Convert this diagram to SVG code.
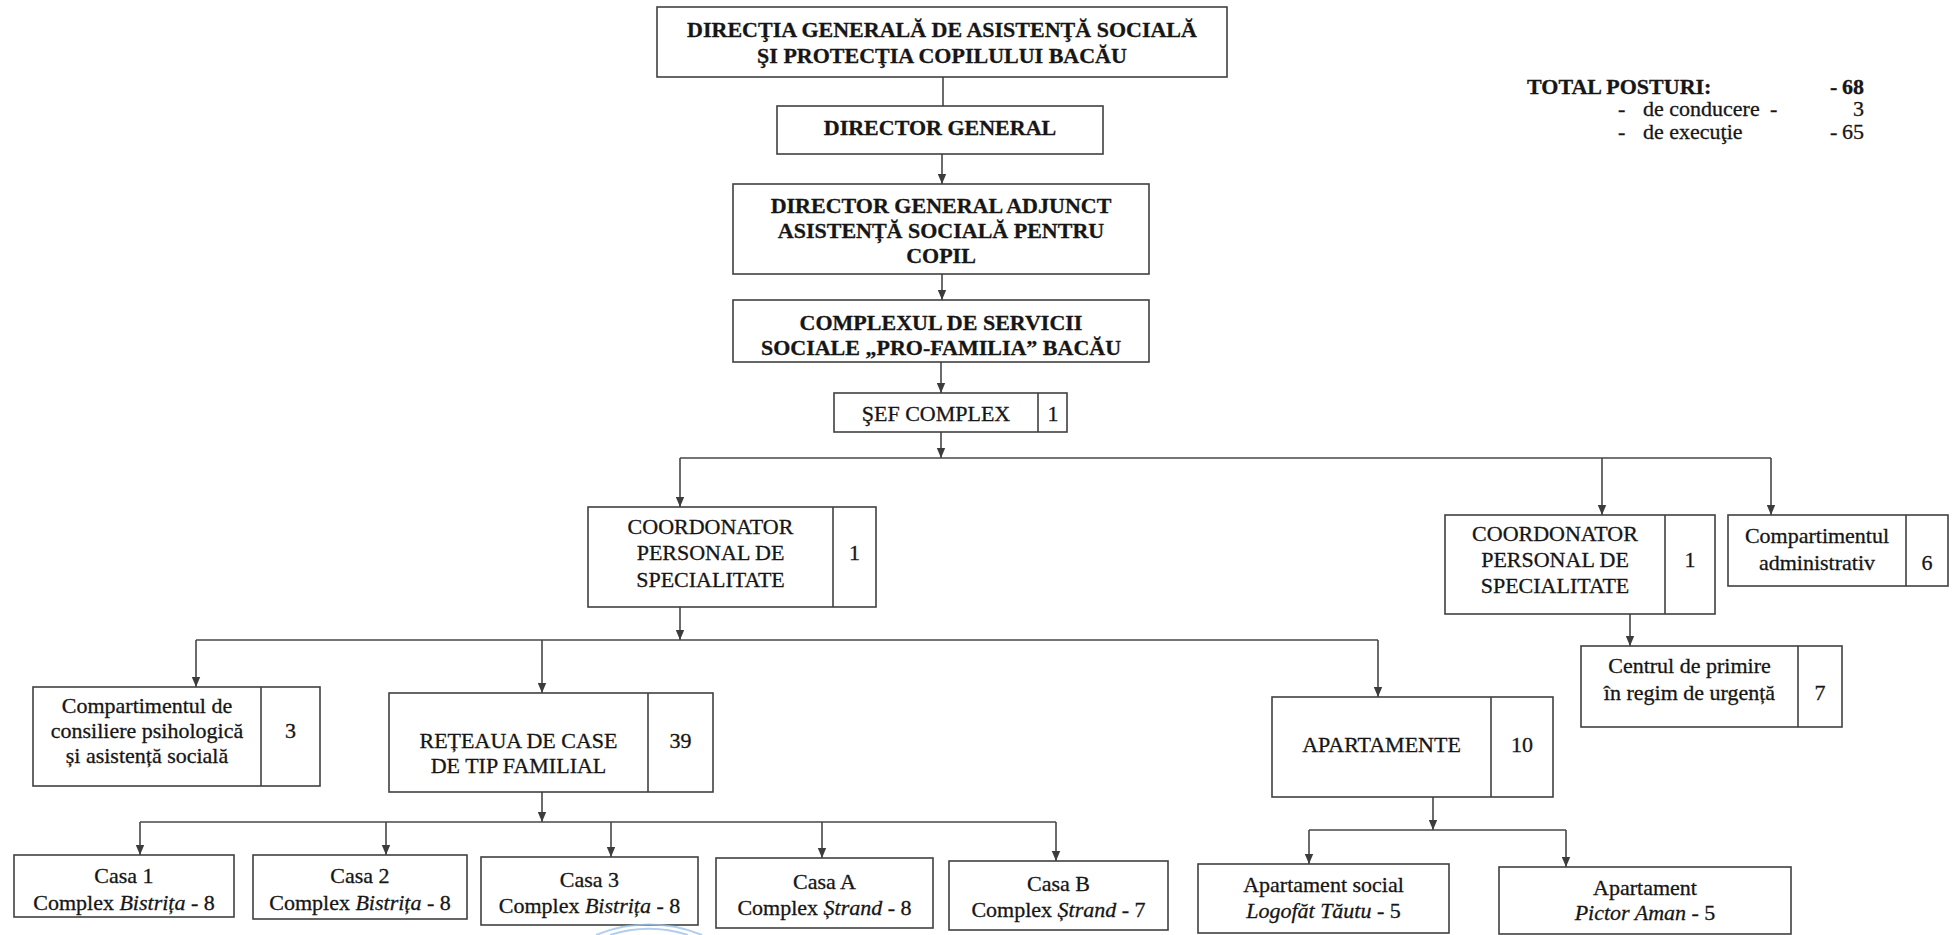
<svg xmlns="http://www.w3.org/2000/svg" width="1954" height="935" viewBox="0 0 1954 935">
<style>
.box{fill:#fff;stroke:#404040;stroke-width:1.6}
.dv{stroke:#404040;stroke-width:1.6}
.t{font-family:"Liberation Serif","Times New Roman",serif;font-size:22px;fill:#161616;stroke:#161616;stroke-width:0.3;text-anchor:middle}
.s{font-family:"Liberation Serif","Times New Roman",serif;font-size:22px;fill:#161616;stroke:#161616;stroke-width:0.3;text-anchor:start}
.e{text-anchor:end}
.b{font-weight:bold}
.i{font-style:italic}
.c{fill:none;stroke:#474747;stroke-width:1.6}
.a{marker-end:url(#arr)}
.stamp{fill:none;stroke:#9cc2ea;stroke-width:2;opacity:0.8}
</style>
<defs>
<marker id="arr" markerUnits="userSpaceOnUse" markerWidth="10" markerHeight="11" viewBox="0 0 10 10" refX="10" refY="5" orient="auto"><path d="M0,0.8 L10,5 L0,9.2 z" fill="#3c3c3c"/></marker>
</defs>
<rect width="1954" height="935" fill="#fff"/>

<g id="connectors">
<path class="c" d="M943,77 V106"/>
<path class="c a" d="M942,154 V184"/>
<path class="c a" d="M942,274 V300"/>
<path class="c a" d="M941,362 V393"/>
<path class="c a" d="M941,432 V458"/>
<path class="c" d="M680,458 H1771"/>
<path class="c a" d="M680,458 V507"/>
<path class="c a" d="M1602,458 V515"/>
<path class="c a" d="M1771,458 V515"/>
<path class="c a" d="M680,607 V640"/>
<path class="c" d="M196,640 H1378"/>
<path class="c a" d="M196,640 V687"/>
<path class="c a" d="M542,640 V693"/>
<path class="c a" d="M1378,640 V697"/>
<path class="c a" d="M1630,614 V646"/>
<path class="c a" d="M542,792 V822"/>
<path class="c" d="M140,822 H1056"/>
<path class="c a" d="M140,822 V855"/>
<path class="c a" d="M386,822 V855"/>
<path class="c a" d="M611,822 V857"/>
<path class="c a" d="M822,822 V858"/>
<path class="c a" d="M1056,822 V861"/>
<path class="c a" d="M1433,797 V830"/>
<path class="c" d="M1309,830 H1566"/>
<path class="c a" d="M1309,830 V864"/>
<path class="c a" d="M1566,830 V867"/>
</g>

<g id="dgaspc">
<rect class="box" x="657" y="7" width="570" height="70"/>
<text class="t b" x="942" y="37">DIRECŢIA GENERALĂ DE ASISTENŢĂ SOCIALĂ</text>
<text class="t b" x="942" y="63">ŞI PROTECŢIA COPILULUI BACĂU</text>
</g>

<g id="director-general">
<rect class="box" x="777" y="106" width="326" height="48"/>
<text class="t b" x="940" y="135">DIRECTOR GENERAL</text>
</g>

<g id="director-adjunct">
<rect class="box" x="733" y="184" width="416" height="90"/>
<text class="t b" x="941" y="213">DIRECTOR GENERAL ADJUNCT</text>
<text class="t b" x="941" y="238">ASISTENȚĂ SOCIALĂ PENTRU</text>
<text class="t b" x="941" y="263">COPIL</text>
</g>

<g id="complex">
<rect class="box" x="733" y="300" width="416" height="62"/>
<text class="t b" x="941" y="330">COMPLEXUL DE SERVICII</text>
<text class="t b" x="941" y="355">SOCIALE „PRO-FAMILIA” BACĂU</text>
</g>

<g id="sef-complex">
<rect class="box" x="834" y="393" width="233" height="39"/>
<line class="dv" x1="1038" y1="393" x2="1038" y2="432"/>
<text class="t" x="936" y="421">ŞEF COMPLEX</text>
<text class="t" x="1053" y="421">1</text>
</g>

<g id="coordonator-1">
<rect class="box" x="588" y="507" width="288" height="100"/>
<line class="dv" x1="833" y1="507" x2="833" y2="607"/>
<text class="t" x="710.5" y="534">COORDONATOR</text>
<text class="t" x="710.5" y="560">PERSONAL DE</text>
<text class="t" x="710.5" y="587">SPECIALITATE</text>
<text class="t" x="854.5" y="560">1</text>
</g>

<g id="coordonator-2">
<rect class="box" x="1445" y="515" width="270" height="99"/>
<line class="dv" x1="1665" y1="515" x2="1665" y2="614"/>
<text class="t" x="1555" y="541">COORDONATOR</text>
<text class="t" x="1555" y="567">PERSONAL DE</text>
<text class="t" x="1555" y="593">SPECIALITATE</text>
<text class="t" x="1690" y="567">1</text>
</g>

<g id="administrativ">
<rect class="box" x="1728" y="515" width="220" height="71"/>
<line class="dv" x1="1906" y1="515" x2="1906" y2="586"/>
<text class="t" x="1817" y="543">Compartimentul</text>
<text class="t" x="1817" y="570">administrativ</text>
<text class="t" x="1927" y="570">6</text>
</g>

<g id="centrul-primire">
<rect class="box" x="1581" y="646" width="261" height="81"/>
<line class="dv" x1="1798" y1="646" x2="1798" y2="727"/>
<text class="t" x="1689.5" y="673">Centrul de primire</text>
<text class="t" x="1689.5" y="700">în regim de urgență</text>
<text class="t" x="1820" y="700">7</text>
</g>

<g id="consiliere">
<rect class="box" x="33" y="687" width="287" height="99"/>
<line class="dv" x1="261" y1="687" x2="261" y2="786"/>
<text class="t" x="147" y="713">Compartimentul de</text>
<text class="t" x="147" y="738">consiliere psihologică</text>
<text class="t" x="147" y="763">și asistență socială</text>
<text class="t" x="290.5" y="738">3</text>
</g>

<g id="reteaua">
<rect class="box" x="389" y="693" width="324" height="99"/>
<line class="dv" x1="648" y1="693" x2="648" y2="792"/>
<text class="t" x="518.5" y="748">REȚEAUA DE CASE</text>
<text class="t" x="518.5" y="773">DE TIP FAMILIAL</text>
<text class="t" x="680.5" y="748">39</text>
</g>

<g id="apartamente">
<rect class="box" x="1272" y="697" width="281" height="100"/>
<line class="dv" x1="1491" y1="697" x2="1491" y2="797"/>
<text class="t" x="1381.5" y="752">APARTAMENTE</text>
<text class="t" x="1522" y="752">10</text>
</g>

<g id="casa-1">
<rect class="box" x="14" y="855" width="220" height="62"/>
<text class="t" x="124" y="883">Casa 1</text>
<text class="t" x="124" y="910">Complex <tspan class="i">Bistrița</tspan> - 8</text>
</g>

<g id="casa-2">
<rect class="box" x="253" y="855" width="214" height="64"/>
<text class="t" x="360" y="883">Casa 2</text>
<text class="t" x="360" y="910">Complex <tspan class="i">Bistrița</tspan> - 8</text>
</g>

<g id="casa-3">
<rect class="box" x="481" y="857" width="217" height="68"/>
<text class="t" x="589.5" y="887">Casa 3</text>
<text class="t" x="589.5" y="913">Complex <tspan class="i">Bistrița</tspan> - 8</text>
</g>

<g id="casa-a">
<rect class="box" x="716" y="858" width="217" height="70"/>
<text class="t" x="824.5" y="889">Casa A</text>
<text class="t" x="824.5" y="915">Complex <tspan class="i">Ștrand</tspan> - 8</text>
</g>

<g id="casa-b">
<rect class="box" x="949" y="861" width="219" height="69"/>
<text class="t" x="1058.5" y="891">Casa B</text>
<text class="t" x="1058.5" y="917">Complex <tspan class="i">Ștrand</tspan> - 7</text>
</g>

<g id="apartament-social">
<rect class="box" x="1198" y="864" width="251" height="69"/>
<text class="t" x="1323.5" y="892">Apartament social</text>
<text class="t" x="1323.5" y="918"><tspan class="i">Logofăt Tăutu</tspan> - 5</text>
</g>

<g id="apartament-pictor">
<rect class="box" x="1499" y="867" width="292" height="67"/>
<text class="t" x="1645" y="895">Apartament</text>
<text class="t" x="1645" y="920"><tspan class="i">Pictor Aman</tspan> - 5</text>
</g>

<g id="total-posturi">
<text class="s b" x="1527" y="94">TOTAL POSTURI:</text>
<text class="s b" x="1830" y="94">-</text>
<text class="s b e" x="1864" y="94">68</text>
<text class="s" x="1618" y="116">-</text>
<text class="s" x="1643" y="116">de conducere</text>
<text class="s" x="1770" y="116">-</text>
<text class="s e" x="1864" y="116">3</text>
<text class="s" x="1618" y="139">-</text>
<text class="s" x="1643" y="139">de execuţie</text>
<text class="s" x="1830" y="139">-</text>
<text class="s e" x="1864" y="139">65</text>
</g>

<g id="stamp">
<path class="stamp" d="M596,935 A140,140 0 0 1 702,935"/>
<path class="stamp" d="M610,935 A126,126 0 0 1 688,935"/>
</g>
</svg>
